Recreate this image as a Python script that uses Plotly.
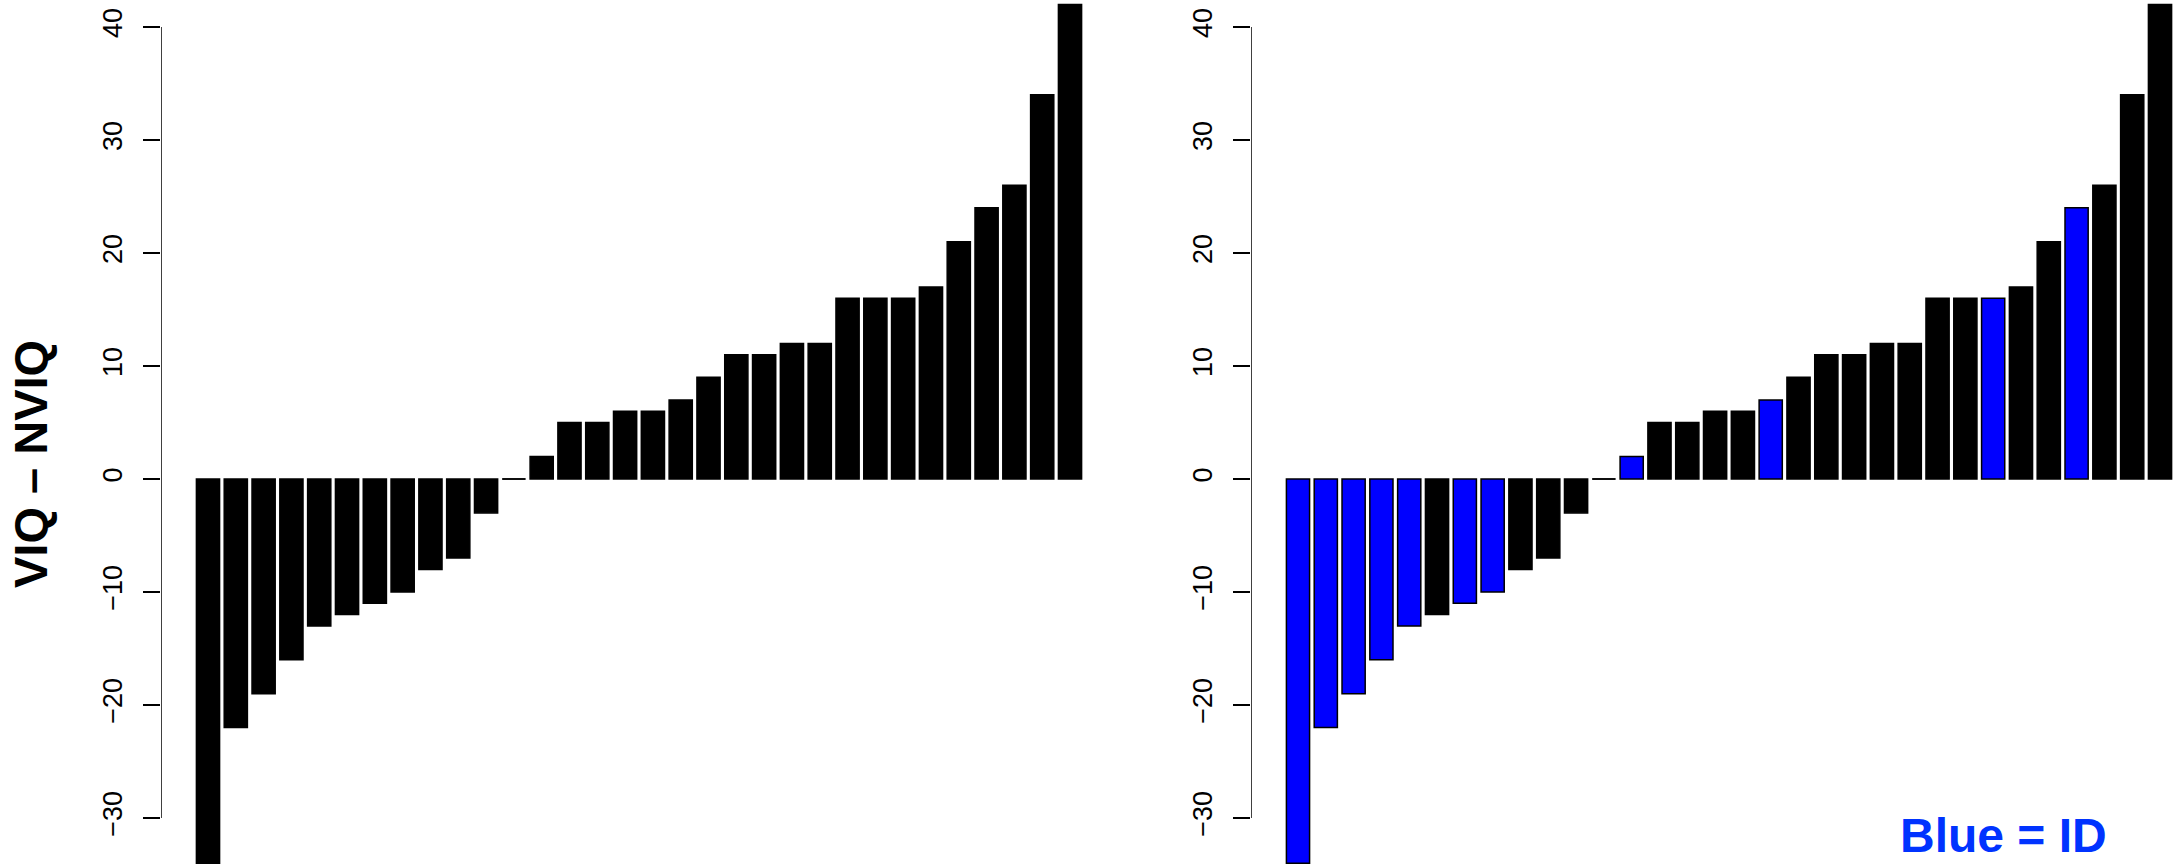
import plotly.graph_objects as go

# ---- data ----
values = [-34, -22, -19, -16, -13, -12, -11, -10, -8, -7, -3, 0, 2, 5, 5, 6, 6, 7,
          9, 11, 11, 12, 12, 16, 16, 16, 17, 21, 24, 26, 34, 42]
is_id = [1, 1, 1, 1, 1, 0, 1, 1, 0, 0, 0, 0, 1, 0, 0, 0, 0, 1, 0, 0, 0, 0, 0, 0, 0,
         1, 0, 0, 1, 0, 0, 0]
y_ticks = [-30, -20, -10, 0, 10, 20, 30, 40]
y_label = "VIQ \u2013 NVIQ"
note = "Blue = ID"

# ---- styling ----
W, H = 2173, 865
BLUE = "#0000ff"
NOTE_BLUE = "#0033ff"
FONT = "Liberation Sans, Arial, Helvetica, sans-serif"
BAR_GAP = 1 / 6            # R barplot space = 0.2
XR_LEFT = [-1.69, 32.69]
PX_PER_UNIT = (1117 - 161) / (XR_LEFT[1] - XR_LEFT[0])
RIGHT_X0 = 1251
XR_RIGHT = [-1.69, -1.69 + (W - RIGHT_X0) / PX_PER_UNIT]
Y0_PX, PX_PER_Y = 479, 11.3
YR = [-(H - Y0_PX) / PX_PER_Y, Y0_PX / PX_PER_Y]

idx = list(range(len(values)))
left_colors = ["black"] * len(values)
right_colors = [BLUE if f else "black" for f in is_id]

fig = go.Figure()
fig.add_trace(go.Bar(x=idx, y=values, marker=dict(color=left_colors, line=dict(color="black", width=1.5)),
                     xaxis="x", yaxis="y", showlegend=False, hoverinfo="skip"))
fig.add_trace(go.Bar(x=idx, y=values, marker=dict(color=right_colors, line=dict(color="black", width=1.5)),
                     xaxis="x2", yaxis="y2", showlegend=False, hoverinfo="skip"))

axis_common = dict(range=YR, tickvals=y_ticks, ticks="outside", ticklen=17, tickwidth=1.5,
                   tickcolor="black", tickangle=-90, showgrid=False, zeroline=False,
                   showline=False, automargin=False, ticklabelstandoff=10,
                   tickfont=dict(family=FONT, size=27, color="black"))

fig.update_layout(
    width=W, height=H,
    margin=dict(l=0, r=0, t=0, b=0),
    paper_bgcolor="white", plot_bgcolor="white",
    bargap=BAR_GAP,
    xaxis=dict(domain=[161 / W, 1117 / W], range=XR_LEFT, visible=False),
    xaxis2=dict(domain=[RIGHT_X0 / W, 1.0], range=XR_RIGHT, visible=False),
    yaxis=dict(anchor="x", domain=[0, 1], **axis_common),
    yaxis2=dict(anchor="x2", domain=[0, 1], **axis_common),
)

# axis lines spanning first to last tick (R style)
for xr, xref, yref in [(XR_LEFT, "x", "y"), (XR_RIGHT, "x2", "y2")]:
    fig.add_shape(type="line", xref=xref, yref=yref, x0=xr[0], x1=xr[0],
                  y0=min(y_ticks), y1=max(y_ticks), line=dict(color="black", width=1.5))
    # zero-height bars drawn as a flat line like R's border
    for i, v in enumerate(values):
        if v == 0:
            half = (1 - BAR_GAP) / 2
            fig.add_shape(type="line", xref=xref, yref=yref, x0=i - half, x1=i + half,
                          y0=0, y1=0, line=dict(color="black", width=1.5))

fig.add_annotation(text=f"<b>{y_label}</b>", xref="paper", yref="paper",
                   x=31 / W, y=1 - 464 / H, xanchor="center", yanchor="middle",
                   textangle=-90, showarrow=False, borderpad=0,
                   font=dict(family=FONT, size=47, color="black"))
fig.add_annotation(text=f"<b>{note}</b>", xref="paper", yref="paper",
                   x=2003 / W, y=1 - 835 / H, xanchor="center", yanchor="middle",
                   showarrow=False, borderpad=0,
                   font=dict(family=FONT, size=48, color=NOTE_BLUE))

fig.write_html("out.html", config={"displayModeBar": False},
               post_script="document.body.style.margin='0';document.body.style.padding='0';"
                           "document.body.style.overflow='hidden';")
